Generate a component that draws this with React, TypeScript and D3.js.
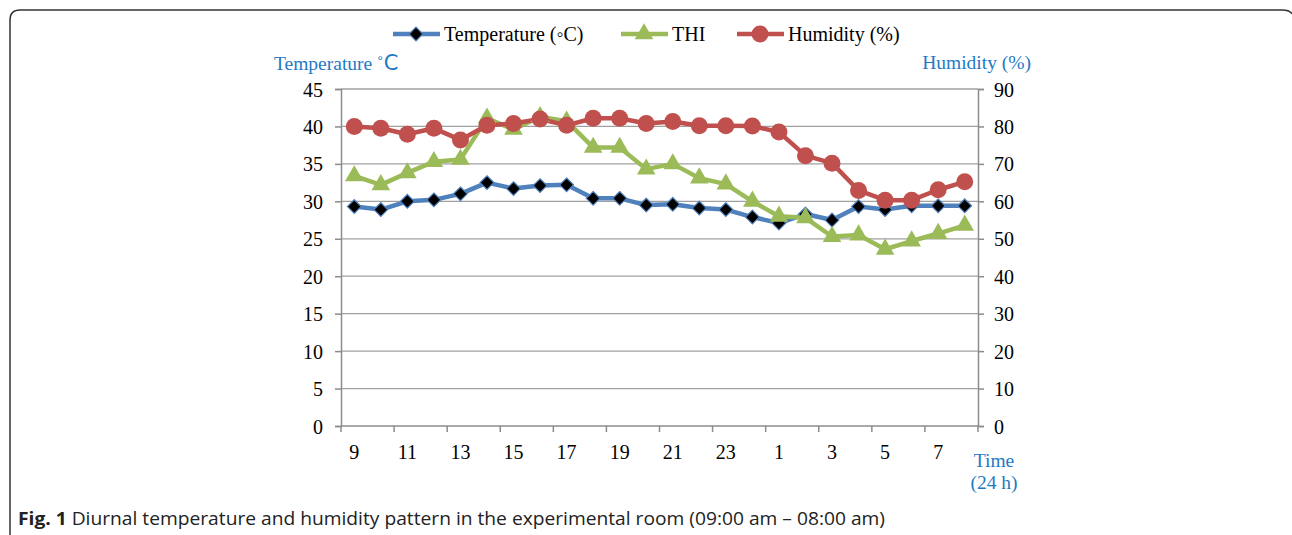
import * as d3 from "d3";
import { useEffect, useRef } from "react";

// hours from 09:00 to 08:00
const hours = [9, 10, 11, 12, 13, 14, 15, 16, 17, 18, 19, 20, 21, 22, 23, 24, 1, 2, 3, 4, 5, 6, 7, 8];
const hourLabels = ["9", "", "11", "", "13", "", "15", "", "17", "", "19", "", "21", "", "23", "", "1", "", "3", "", "5", "", "7", ""];
const temperature = [29.3, 28.9, 30.0, 30.2, 31.0, 32.5, 31.7, 32.1, 32.2, 30.4, 30.4, 29.5, 29.6, 29.1, 28.9, 27.9, 27.1, 28.3, 27.5, 29.3, 28.9, 29.4, 29.4, 29.4];
const thi = [33.4, 32.2, 33.8, 35.3, 35.6, 41.1, 39.6, 41.3, 40.7, 37.2, 37.2, 34.3, 35.0, 33.1, 32.3, 30.0, 28.0, 27.8, 25.3, 25.5, 23.6, 24.7, 25.7, 26.8];
const humidity = [80.0, 79.5, 77.9, 79.5, 76.4, 80.3, 80.8, 82.0, 80.3, 82.2, 82.2, 80.8, 81.3, 80.2, 80.2, 80.1, 78.5, 72.2, 70.2, 62.9, 60.3, 60.3, 63.1, 65.2];
const leftTicks = [0, 5, 10, 15, 20, 25, 30, 35, 40, 45];
const rightTicks = [0, 10, 20, 30, 40, 50, 60, 70, 80, 90];

const W = 1292;
const H = 535;
const serif = "'Liberation Serif', 'Times New Roman', serif";
const titleBlue = "#1f7ac4";

export default function App() {
    const svgRef = useRef<SVGSVGElement>(null);

    useEffect(() => {
        const svg = d3.select(svgRef.current);
        svg.selectAll("*").remove();

        const left = 341, right = 978, top = 89, bottom = 426;

        const x = d3.scaleBand<number>().domain(d3.range(hours.length)).range([left, right]);
        const yT = d3.scaleLinear([0, 45], [bottom, top]);
        const yH = d3.scaleLinear([0, 90], [bottom, top]);
        const cx = (i: number) => (x(i) as number) + x.bandwidth() / 2;

        // frame
        svg.append("path")
            .attr("d", `M10 ${H + 5} V20 Q10 10 20 10 H1282 Q1290 10 1292 14`)
            .attr("fill", "none").attr("stroke", "#333").attr("stroke-width", 1.5);

        // grid
        svg.append("g").selectAll("line").data(leftTicks.slice(1)).join("line")
            .attr("x1", left).attr("x2", right)
            .attr("y1", d => yT(d)).attr("y2", d => yT(d))
            .attr("stroke", "#a0a0a0").attr("stroke-width", 1.3);

        // left axis
        const gl = svg.append("g").attr("transform", `translate(${left},0)`)
            .call(d3.axisLeft(yT).tickValues(leftTicks).tickSize(6).tickPadding(12));
        // right axis
        const gr = svg.append("g").attr("transform", `translate(${right},0)`)
            .call(d3.axisRight(yH).tickValues(rightTicks).tickSize(6).tickPadding(10));
        // bottom axis
        const tickPos = d3.range(0, hours.length + 1, 2).map(i => left + i * x.bandwidth());
        const gb = svg.append("g");
        gb.append("line").attr("x1", left).attr("x2", right).attr("y1", bottom).attr("y2", bottom);
        gb.selectAll(".tk").data(tickPos).join("line").attr("class", "tk")
            .attr("x1", d => d).attr("x2", d => d).attr("y1", bottom).attr("y2", bottom + 6);
        gb.selectAll("line").attr("stroke", "#8c8c8c").attr("stroke-width", 1.5);
        gb.selectAll("text").data(hourLabels).join("text")
            .attr("x", (_, i) => cx(i)).attr("y", bottom + 33)
            .attr("text-anchor", "middle").text(d => d);

        [gl, gr].forEach(g => {
            g.select(".domain").attr("stroke", "#8c8c8c").attr("stroke-width", 1.5);
            g.selectAll(".tick line").attr("stroke", "#8c8c8c").attr("stroke-width", 1.5);
        });
        svg.selectAll("text").attr("font-family", serif).attr("font-size", 20).attr("fill", "#000");
        gl.selectAll(".tick text").attr("dy", "0.35em");
        gr.selectAll(".tick text").attr("dy", "0.35em");

        // axis titles
        const lt = svg.append("text").attr("x", 274).attr("y", 70)
            .attr("font-family", serif).attr("font-size", 19.5).attr("fill", titleBlue);
        lt.append("tspan").text("Temperature ˚");
        lt.append("tspan").attr("font-family", "'DejaVu Sans', sans-serif").attr("font-size", 21).text("C");
        svg.append("text").attr("x", 1031).attr("y", 69).attr("text-anchor", "end")
            .attr("font-family", serif).attr("font-size", 19.5).attr("fill", titleBlue).text("Humidity (%)");
        svg.append("text").attr("x", 994).attr("y", 467).attr("text-anchor", "middle")
            .attr("font-family", serif).attr("font-size", 19.5).attr("fill", titleBlue).text("Time");
        svg.append("text").attr("x", 994).attr("y", 489).attr("text-anchor", "middle")
            .attr("font-family", serif).attr("font-size", 19.5).attr("fill", titleBlue).text("(24 h)");

        const series = [
            { name: "Temperature (◦C)", values: temperature, y: yT, color: "#4f81bd", marker: "diamond" },
            { name: "THI", values: thi, y: yT, color: "#9bbb59", marker: "triangle" },
            { name: "Humidity (%)", values: humidity, y: yH, color: "#c0504d", marker: "circle" },
        ];

        const drawMarker = (g: any, m: string, color: string, px: number, py: number) => {
            if (m === "diamond") {
                g.append("path").attr("d", d3.symbol(d3.symbolDiamond2, 120)())
                    .attr("transform", `translate(${px},${py})`)
                    .attr("fill", "#000").attr("stroke", color).attr("stroke-width", 1.2);
            } else if (m === "triangle") {
                g.append("path").attr("d", d3.symbol(d3.symbolTriangle, 150)())
                    .attr("transform", `translate(${px},${py})`)
                    .attr("fill", color);
            } else {
                g.append("circle").attr("cx", px).attr("cy", py).attr("r", 8.5).attr("fill", color);
            }
        };

        series.forEach(s => {
            const line = d3.line<number>().x((_, i) => cx(i)).y(d => s.y(d));
            svg.append("path").datum(s.values).attr("d", line)
                .attr("fill", "none").attr("stroke", s.color).attr("stroke-width", 4.5)
                .attr("stroke-linejoin", "round");
        });
        series.forEach(s => {
            const g = svg.append("g");
            s.values.forEach((v, i) => drawMarker(g, s.marker, s.color, cx(i), s.y(v)));
        });

        // legend
        const legendX = [393, 621, 737];
        series.forEach((s, k) => {
            const g = svg.append("g");
            const lx = legendX[k];
            g.append("line").attr("x1", lx).attr("x2", lx + 47).attr("y1", 34).attr("y2", 34)
                .attr("stroke", s.color).attr("stroke-width", 4.5);
            drawMarker(g, s.marker, s.color, lx + 23, 34);
            g.append("text").attr("x", lx + 51).attr("y", 41)
                .attr("font-family", serif).attr("font-size", 20).attr("fill", "#000").text(s.name);
        });

        // caption
        const cap = svg.append("text").attr("x", 18).attr("y", 525)
            .attr("font-family", "'Open Sans', 'Noto Sans', sans-serif").attr("font-size", 18)
            .attr("fill", "#222").attr("textLength", 867).attr("lengthAdjust", "spacingAndGlyphs");
        cap.append("tspan").attr("font-weight", "bold").text("Fig. 1");
        cap.append("tspan").text(" Diurnal temperature and humidity pattern in the experimental room (09:00 am – 08:00 am)");
    }, []);

    return (
        <svg ref={svgRef} width={W} height={H} viewBox={`0 0 ${W} ${H}`}
            style={{ position: "absolute", left: 0, top: 0, background: "#fff" }} />
    );
}
